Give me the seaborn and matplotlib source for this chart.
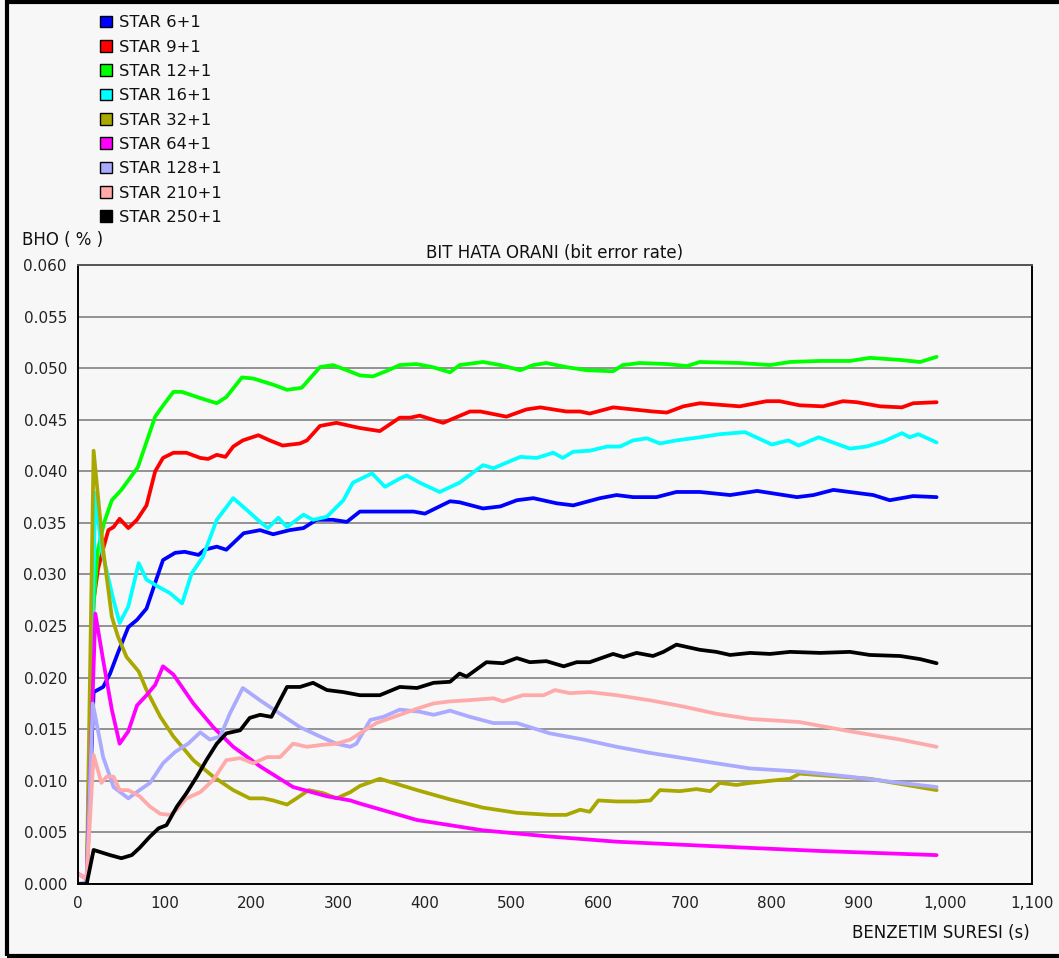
import matplotlib
matplotlib.use("Agg")
import matplotlib.pyplot as plt
from matplotlib.patches import Patch, Rectangle
from matplotlib.ticker import FuncFormatter, MultipleLocator
import seaborn as sns
import pandas as pd

# ---- series data: simulation time (s) and bit error rate ----
labels = ["STAR 6+1", "STAR 9+1", "STAR 12+1", "STAR 16+1", "STAR 32+1",
          "STAR 64+1", "STAR 128+1", "STAR 210+1", "STAR 250+1"]
colors = ["#0000ff", "#ff0000", "#00ff00", "#00ffff", "#a8a800",
          "#ff00ff", "#aaaaff", "#ffaaaa", "#000000"]

star6_x = [0, 10, 18, 29, 37, 46, 58, 68, 79, 89, 98, 112, 123, 139, 146, 160, 171,
           191, 210, 225, 244, 260, 275, 294, 310, 325, 371, 387, 400, 429, 440,
           467, 487, 506, 525, 552, 571, 602, 621, 640, 667, 690, 717, 752, 783,
           829, 848, 871, 917, 936, 963, 990]
star6_y = [0, 0, 0.0186, 0.0191, 0.0204, 0.0224, 0.0249, 0.0256, 0.0267, 0.0292,
           0.0314, 0.0321, 0.0322, 0.0319, 0.0324, 0.0327, 0.0324, 0.0340, 0.0343,
           0.0339, 0.0343, 0.0345, 0.0353, 0.0353, 0.0351, 0.0361, 0.0361, 0.0361,
           0.0359, 0.0371, 0.0370, 0.0364, 0.0366, 0.0372, 0.0374, 0.0369, 0.0367,
           0.0374, 0.0377, 0.0375, 0.0375, 0.0380, 0.0380, 0.0377, 0.0381, 0.0375,
           0.0377, 0.0382, 0.0377, 0.0372, 0.0376, 0.0375]

star9_x = [0, 10, 18, 23, 29, 35, 41, 48, 58, 68, 79, 89, 98, 110, 125, 141, 150,
           160, 170, 179, 190, 208, 221, 236, 256, 264, 279, 298, 314, 325, 348,
           371, 383, 394, 421, 452, 464, 494, 517, 533, 563, 579, 590, 617, 640,
           663, 679, 698, 717, 763, 794, 809, 832, 859, 882, 898, 925, 950, 963, 990]
star9_y = [0, 0, 0.0275, 0.0305, 0.0325, 0.0343, 0.0346, 0.0354, 0.0345, 0.0353,
           0.0367, 0.0400, 0.0413, 0.0418, 0.0418, 0.0413, 0.0412, 0.0416, 0.0414,
           0.0424, 0.0430, 0.0435, 0.0430, 0.0425, 0.0427, 0.0430, 0.0444, 0.0447,
           0.0444, 0.0442, 0.0439, 0.0452, 0.0452, 0.0454, 0.0447, 0.0458, 0.0458,
           0.0453, 0.0460, 0.0462, 0.0458, 0.0458, 0.0456, 0.0462, 0.0460, 0.0458,
           0.0457, 0.0463, 0.0466, 0.0463, 0.0468, 0.0468, 0.0464, 0.0463, 0.0468,
           0.0467, 0.0463, 0.0462, 0.0466, 0.0467]

star12_x = [0, 10, 17, 23, 30, 39, 50, 69, 89, 100, 110, 120, 141, 160, 171, 189,
            202, 225, 241, 258, 279, 294, 310, 325, 340, 355, 371, 390, 409, 429,
            440, 467, 487, 510, 525, 540, 563, 587, 617, 628, 648, 679, 702, 717,
            763, 798, 821, 856, 890, 913, 948, 971, 990]
star12_y = [0, 0, 0.0260, 0.0324, 0.0350, 0.0372, 0.0382, 0.0404, 0.0453, 0.0466,
            0.0477, 0.0477, 0.0471, 0.0466, 0.0472, 0.0491, 0.0490, 0.0484, 0.0479,
            0.0481, 0.0501, 0.0503, 0.0498, 0.0493, 0.0492, 0.0497, 0.0503, 0.0504,
            0.0501, 0.0496, 0.0503, 0.0506, 0.0503, 0.0498, 0.0503, 0.0505, 0.0501,
            0.0498, 0.0497, 0.0503, 0.0505, 0.0504, 0.0502, 0.0506, 0.0505, 0.0503,
            0.0506, 0.0507, 0.0507, 0.0510, 0.0508, 0.0506, 0.0511]

star16_x = [0, 10, 20, 27, 41, 48, 58, 70, 79, 95, 106, 120, 131, 144, 160, 179,
            194, 210, 219, 231, 241, 260, 271, 287, 306, 317, 339, 354, 371, 379,
            394, 417, 440, 467, 479, 510, 529, 548, 559, 571, 590, 610, 625, 640,
            656, 671, 690, 717, 740, 769, 800, 819, 831, 854, 890, 909, 929, 950,
            959, 969, 990]
star16_y = [0, 0, 0.0379, 0.0325, 0.0275, 0.0253, 0.0269, 0.0311, 0.0295, 0.0287,
            0.0282, 0.0272, 0.0301, 0.0317, 0.0353, 0.0374, 0.0363, 0.0351, 0.0345,
            0.0355, 0.0346, 0.0358, 0.0353, 0.0356, 0.0372, 0.0389, 0.0398, 0.0385,
            0.0393, 0.0396, 0.0389, 0.0380, 0.0389, 0.0406, 0.0403, 0.0414, 0.0413,
            0.0418, 0.0413, 0.0419, 0.0420, 0.0424, 0.0424, 0.0430, 0.0432, 0.0427,
            0.0430, 0.0433, 0.0436, 0.0438, 0.0426, 0.0430, 0.0425, 0.0433, 0.0422,
            0.0424, 0.0429, 0.0437, 0.0433, 0.0436, 0.0428]

star32_x = [0, 10, 18, 29, 39, 46, 56, 70, 79, 95, 110, 133, 156, 179, 198, 214,
            225, 241, 252, 266, 283, 298, 314, 325, 348, 391, 429, 467, 506, 544,
            563, 579, 590, 600, 621, 644, 660, 671, 694, 713, 729, 740, 759, 775,
            821, 832, 863, 913, 948, 990]
star32_y = [0, 0, 0.0420, 0.0324, 0.0259, 0.0240, 0.0220, 0.0206, 0.0188, 0.0162,
            0.0143, 0.0120, 0.0104, 0.0091, 0.0083, 0.0083, 0.0081, 0.0077, 0.0083,
            0.0091, 0.0088, 0.0083, 0.0089, 0.0095, 0.0102, 0.0091, 0.0082, 0.0074,
            0.0069, 0.0067, 0.0067, 0.0072, 0.0070, 0.0081, 0.0080, 0.0080, 0.0081,
            0.0091, 0.0090, 0.0092, 0.0090, 0.0098, 0.0096, 0.0098, 0.0102, 0.0107,
            0.0105, 0.0102, 0.0097, 0.0091]

star64_x = [0, 10, 20, 29, 39, 48, 58, 68, 79, 89, 98, 110, 133, 156, 179, 210,
            248, 287, 314, 325, 391, 467, 544, 621, 698, 775, 856, 990]
star64_y = [0.0010, 0.0005, 0.0262, 0.0217, 0.0169, 0.0136, 0.0148, 0.0173, 0.0183,
            0.0193, 0.0211, 0.0203, 0.0175, 0.0152, 0.0133, 0.0114, 0.0094, 0.0085,
            0.0081, 0.0078, 0.0062, 0.0052, 0.0046, 0.0041, 0.0038, 0.0035, 0.0032,
            0.0028]

star128_x = [0, 10, 17, 29, 41, 58, 71, 83, 98, 112, 127, 141, 152, 164, 175, 190,
             210, 233, 256, 279, 298, 314, 321, 337, 352, 371, 394, 410, 429, 452,
             479, 506, 544, 583, 621, 660, 698, 736, 775, 832, 890, 948, 990]
star128_y = [0, 0.0002, 0.0175, 0.0123, 0.0094, 0.0083, 0.0091, 0.0098, 0.0117,
             0.0128, 0.0136, 0.0147, 0.0140, 0.0143, 0.0165, 0.0190, 0.0178, 0.0165,
             0.0152, 0.0143, 0.0136, 0.0133, 0.0136, 0.0159, 0.0162, 0.0169, 0.0167,
             0.0164, 0.0168, 0.0162, 0.0156, 0.0156, 0.0146, 0.0140, 0.0133, 0.0127,
             0.0122, 0.0117, 0.0112, 0.0109, 0.0104, 0.0098, 0.0094]

star210_x = [0, 10, 18, 27, 33, 41, 48, 58, 71, 83, 95, 106, 114, 125, 141, 156,
             171, 187, 202, 218, 233, 248, 264, 283, 298, 314, 325, 344, 371, 391,
             410, 429, 448, 479, 490, 513, 537, 550, 567, 590, 621, 660, 698, 736,
             775, 832, 890, 948, 990]
star210_y = [0.0010, 0.0005, 0.0125, 0.0098, 0.0104, 0.0104, 0.0091, 0.0091, 0.0085,
             0.0075, 0.0068, 0.0067, 0.0072, 0.0083, 0.0089, 0.0101, 0.0120, 0.0122,
             0.0117, 0.0123, 0.0123, 0.0136, 0.0133, 0.0135, 0.0136, 0.0140, 0.0146,
             0.0156, 0.0164, 0.0170, 0.0175, 0.0177, 0.0178, 0.0180, 0.0177, 0.0183,
             0.0183, 0.0188, 0.0185, 0.0186, 0.0183, 0.0178, 0.0172, 0.0165, 0.0160,
             0.0157, 0.0148, 0.0140, 0.0133]

star250_x = [0, 10, 18, 37, 50, 62, 71, 83, 93, 102, 114, 125, 137, 148, 160, 171,
             187, 198, 210, 223, 231, 241, 256, 271, 287, 306, 325, 348, 371, 391,
             410, 429, 440, 448, 471, 490, 506, 521, 540, 560, 575, 590, 617, 629,
             644, 663, 675, 690, 717, 736, 752, 775, 798, 821, 856, 890, 913, 948,
             971, 990]
star250_y = [0, 0, 0.0033, 0.0028, 0.0025, 0.0028, 0.0035, 0.0046, 0.0054, 0.0057,
             0.0075, 0.0088, 0.0104, 0.0120, 0.0136, 0.0146, 0.0149, 0.0161, 0.0164,
             0.0162, 0.0175, 0.0191, 0.0191, 0.0195, 0.0188, 0.0186, 0.0183, 0.0183,
             0.0191, 0.0190, 0.0195, 0.0196, 0.0204, 0.0201, 0.0215, 0.0214, 0.0219,
             0.0215, 0.0216, 0.0211, 0.0215, 0.0215, 0.0223, 0.0220, 0.0224, 0.0221,
             0.0225, 0.0232, 0.0227, 0.0225, 0.0222, 0.0224, 0.0223, 0.0225, 0.0224,
             0.0225, 0.0222, 0.0221, 0.0218, 0.0214]

xs = [star6_x, star9_x, star12_x, star16_x, star32_x, star64_x, star128_x,
      star210_x, star250_x]
ys = [star6_y, star9_y, star12_y, star16_y, star32_y, star64_y, star128_y,
      star210_y, star250_y]

frames = [pd.DataFrame({"t": x, "ber": y, "topology": lab})
          for x, y, lab in zip(xs, ys, labels)]
df = pd.concat(frames, ignore_index=True)

bg = "#f7f7f7"
sns.set_style("white", {"axes.facecolor": bg, "figure.facecolor": bg})
plt.rcParams["font.family"] = ["DejaVu Sans"]

fig = plt.figure(figsize=(10.59, 9.58), dpi=100)
W, H = 1059, 958
ax = fig.add_axes([78 / W, 1 - 884 / H, (1032 - 78) / W, (884 - 265) / H])

sns.lineplot(data=df, x="t", y="ber", hue="topology", hue_order=labels,
             palette=colors, estimator=None, sort=False, linewidth=2.7,
             legend=False, ax=ax)

ax.set_xlim(0, 1100)
ax.set_ylim(0, 0.060)
ax.xaxis.set_major_locator(MultipleLocator(100))
ax.yaxis.set_major_locator(MultipleLocator(0.005))
ax.xaxis.set_major_formatter(FuncFormatter(lambda v, p: f"{int(round(v)):,}"))
ax.yaxis.set_major_formatter(FuncFormatter(lambda v, p: f"{v:.3f}"))
ax.set_xlabel("")
ax.set_ylabel("")
ax.grid(axis="y", color="#8a8a8a", linewidth=1.3)
ax.set_axisbelow(True)
ax.tick_params(axis="both", direction="out", length=5, width=1.2,
               color="black", labelsize=11, labelcolor="#222222")
ax.tick_params(axis="x", pad=4)
ax.tick_params(axis="y", pad=3)
for side in ["left", "bottom", "right"]:
    ax.spines[side].set_color("black")
    ax.spines[side].set_linewidth(1.4)
ax.spines["top"].set_color("#555555")
ax.spines["top"].set_linewidth(1.4)

# chart texts
fig.text(22 / W, 1 - 240 / H, "BHO ( % )", ha="left", va="center",
         fontsize=12, color="#111111")
fig.text(555 / W, 1 - 253 / H, "BIT HATA ORANI (bit error rate)", ha="center",
         va="center", fontsize=12, color="#111111")
fig.text(1030 / W, 1 - 933 / H, "BENZETIM SURESI (s)", ha="right", va="center",
         fontsize=12, color="#111111")

# legend with square colour keys
handles = [Patch(facecolor=c, edgecolor="black", linewidth=1.0, label=l)
           for c, l in zip(colors, labels)]
fig.legend(handles=handles, loc="upper left",
           bbox_to_anchor=(92 / W, 1 - 7 / H), frameon=False, fontsize=11.8,
           handlelength=0.72, handleheight=0.72, handletextpad=0.45,
           labelspacing=0.57, borderpad=0.0, labelcolor="#111111")

# outer frame
fig.add_artist(Rectangle((7 / W, 2 / H), 1.2, 1 - 4 / H, transform=fig.transFigure,
                         fill=False, edgecolor="black", linewidth=3.0))

fig.savefig("out.png", dpi=100, facecolor=bg)
